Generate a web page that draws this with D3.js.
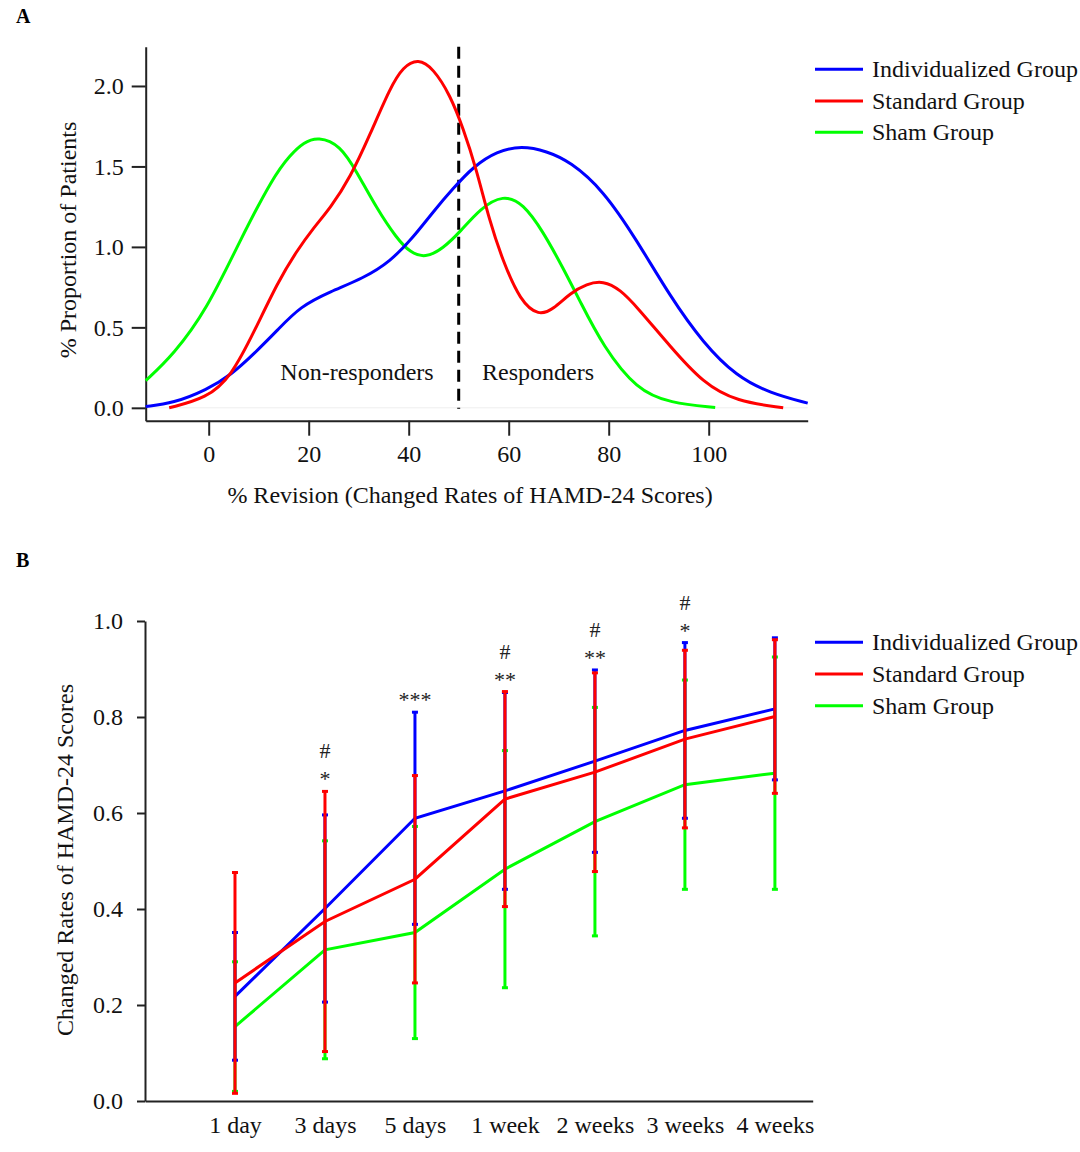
<!DOCTYPE html>
<html><head><meta charset="utf-8">
<script src="https://cdn.jsdelivr.net/npm/d3@7"></script>
<style>
html,body{margin:0;padding:0;background:#fff;}
svg{display:block;}
</style></head>
<body>
<script>
// ---------- Panel A data: density curves ----------
const groupNames = ["Individualized Group", "Standard Group", "Sham Group"];
const groupColors = ["#0000ff", "#ff0000", "#00ff00"];

const indivX = [-12.6, -7.1, -0.4, 4.5, 9.2, 13.8, 18.3, 24.3, 30.9, 36.3, 41.0, 44.9, 48.9, 52.9, 57.6, 62.6, 67.6, 72.3, 78.9, 85.6, 92.3, 98.9, 105.6, 112.3, 119.8];
const indivY = [0.008, 0.029, 0.112, 0.205, 0.34, 0.484, 0.63, 0.722, 0.805, 0.908, 1.063, 1.219, 1.364, 1.498, 1.595, 1.628, 1.595, 1.530, 1.353, 1.043, 0.691, 0.402, 0.194, 0.091, 0.029];

const standX = [-7.9, -0.4, 4.5, 9.2, 13.8, 17.5, 21.0, 24.3, 28.3, 32.3, 36.3, 38.9, 41.9, 44.9, 48.3, 50.9, 53.5, 56.2, 58.9, 62.3, 66.0, 69.0, 72.3, 75.6, 78.9, 82.3, 85.6, 92.3, 98.9, 105.6, 114.9];
const standY = [0.0, 0.06, 0.194, 0.48, 0.78, 0.97, 1.12, 1.24, 1.43, 1.70, 1.99, 2.12, 2.17, 2.11, 1.943, 1.736, 1.488, 1.157, 0.908, 0.665, 0.57, 0.615, 0.712, 0.77, 0.79, 0.735, 0.629, 0.381, 0.153, 0.039, 0.0];

const shamX = [-12.6, -7.1, -0.4, 6.3, 12.9, 16.3, 19.0, 21.9, 26.3, 29.6, 33.6, 37.6, 40.3, 43.3, 46.9, 50.3, 54.3, 58.9, 62.9, 66.9, 70.9, 74.3, 78.9, 85.6, 92.3, 101.3];
const shamY = [0.169, 0.329, 0.608, 1.043, 1.436, 1.571, 1.65, 1.685, 1.633, 1.467, 1.239, 1.053, 0.965, 0.93, 0.991, 1.094, 1.239, 1.325, 1.270, 1.094, 0.867, 0.66, 0.381, 0.112, 0.029, 0.002];

const xTicksA = [0, 20, 40, 60, 80, 100];
const yTicksA = [0, 0.5, 1.0, 1.5, 2.0];
const cutoff = 50;

// ---------- Panel B data: means and SD ----------
const timepoints = ["1 day", "3 days", "5 days", "1 week", "2 weeks", "3 weeks", "4 weeks"];
const indivMean = [0.218, 0.401, 0.589, 0.646, 0.708, 0.772, 0.817];
const indivSD   = [0.133, 0.195, 0.221, 0.205, 0.190, 0.183, 0.148];
const standMean = [0.246, 0.374, 0.462, 0.629, 0.685, 0.754, 0.801];
const standSD   = [0.230, 0.271, 0.216, 0.224, 0.207, 0.185, 0.160];
const shamMean  = [0.155, 0.315, 0.351, 0.483, 0.582, 0.659, 0.683];
const shamSD    = [0.135, 0.227, 0.221, 0.247, 0.238, 0.218, 0.242];
const yTicksB = [0, 0.2, 0.4, 0.6, 0.8, 1.0];
const starLabels = ["", "*", "***", "**", "**", "*", ""];
const hashLabels = ["", "#", "", "#", "#", "#", ""];

const FONT = "'Liberation Serif','Times New Roman',Times,serif";
const FS = 24;

const svg = d3.select("body").append("svg").attr("width", 1080).attr("height", 1152)
  .style("font-family", FONT);

// ================= PANEL A =================
const xA = d3.scaleLinear().domain([-12.6, 119.8]).range([145.7, 807.7]);
const yA = d3.scaleLinear().domain([-0.08, 2.244]).range([420.7, 46.7]);

svg.append("text").attr("x", 16).attr("y", 23).attr("font-size", 20).attr("font-weight", "bold").text("A");

// faint baseline
svg.append("line").attr("x1", xA.range()[0]).attr("x2", xA.range()[1])
  .attr("y1", yA(0)).attr("y2", yA(0)).attr("stroke", "#eeeeee").attr("stroke-width", 1);

const axYA = svg.append("g").attr("transform", `translate(${xA.range()[0]},0)`)
  .call(d3.axisLeft(yA).tickValues(yTicksA).tickFormat(d3.format(".1f")).tickSize(14).tickSizeOuter(0).tickPadding(8));
const axXA = svg.append("g").attr("transform", `translate(0,${yA.range()[0]})`)
  .call(d3.axisBottom(xA).tickValues(xTicksA).tickFormat(d3.format("d")).tickSize(15).tickSizeOuter(0));
axXA.selectAll(".tick text").attr("y", 41).attr("dy", 0);
[axYA, axXA].forEach(g => {
  g.attr("font-family", FONT).attr("font-size", FS);
  g.selectAll("path,line").attr("stroke", "#222").attr("stroke-width", 2);
  g.selectAll("text").attr("fill", "#111");
});

svg.append("text").attr("x", 470).attr("y", 503).attr("text-anchor", "middle").attr("font-size", FS)
  .attr("fill", "#111").text("% Revision (Changed Rates of HAMD-24 Scores)");
svg.append("text").attr("transform", "translate(76,240) rotate(-90)").attr("text-anchor", "middle")
  .attr("font-size", FS).attr("fill", "#111").text("% Proportion of Patients");

// dashed cutoff line
svg.append("line").attr("x1", xA(cutoff)).attr("x2", xA(cutoff)).attr("y1", yA.range()[1]).attr("y2", yA(0) + 1)
  .attr("stroke", "#000").attr("stroke-width", 3).attr("stroke-dasharray", "12,7");

svg.append("text").attr("x", 357).attr("y", 380).attr("text-anchor", "middle").attr("font-size", FS).attr("fill", "#111").text("Non-responders");
svg.append("text").attr("x", 538).attr("y", 380).attr("text-anchor", "middle").attr("font-size", FS).attr("fill", "#111").text("Responders");

const lineA = d3.line().x(d => xA(d[0])).y(d => yA(d[1])).curve(d3.curveBasis);
const curves = [[shamX, shamY, 2], [indivX, indivY, 0], [standX, standY, 1]];
curves.forEach(([xs, ys, gi]) => {
  const pts = xs.map((x, i) => [x, ys[i]]);
  svg.append("path").attr("d", lineA(pts)).attr("fill", "none")
    .attr("stroke", groupColors[gi]).attr("stroke-width", 3);
});

function legend(ys) {
  groupNames.forEach((n, i) => {
    svg.append("line").attr("x1", 815).attr("x2", 863).attr("y1", ys[i]).attr("y2", ys[i])
      .attr("stroke", groupColors[i]).attr("stroke-width", 3);
    svg.append("text").attr("x", 872).attr("y", ys[i] + 8).attr("font-size", FS).attr("fill", "#111").text(n);
  });
}
legend([69.3, 101, 132.3]);

// ================= PANEL B =================
const xB = d3.scaleLinear().domain([0, 7.42]).range([145, 812.7]);
const yB = d3.scaleLinear().domain([0, 1]).range([1101, 621]);

svg.append("text").attr("x", 16).attr("y", 567).attr("font-size", 20).attr("font-weight", "bold").text("B");

const axYB = svg.append("g").attr("transform", `translate(${xB.range()[0]},0)`)
  .call(d3.axisLeft(yB).tickValues(yTicksB).tickFormat(d3.format(".1f")).tickSize(8).tickSizeOuter(0).tickPadding(14));
const axXB = svg.append("g").attr("transform", `translate(0,${yB.range()[0]})`)
  .call(d3.axisBottom(xB).tickValues(d3.range(1, timepoints.length + 1)).tickFormat(i => timepoints[i - 1]).tickSize(0).tickSizeOuter(0));
axXB.selectAll(".tick text").attr("y", 32).attr("dy", 0);
[axYB, axXB].forEach(g => {
  g.attr("font-family", FONT).attr("font-size", FS);
  g.selectAll("path,line").attr("stroke", "#222").attr("stroke-width", 2);
  g.selectAll("text").attr("fill", "#111");
});
svg.append("text").attr("transform", "translate(73,860) rotate(-90)").attr("text-anchor", "middle")
  .attr("font-size", FS).attr("fill", "#111").text("Changed Rates of HAMD-24 Scores");

const seriesB = [[shamMean, shamSD, 2], [indivMean, indivSD, 0], [standMean, standSD, 1]];
const lineB = d3.line().x((d, i) => xB(i + 1)).y(d => yB(d));
seriesB.forEach(([m, sd, gi]) => {
  const g = svg.append("g");
  const col = groupColors[gi];
  m.forEach((v, i) => {
    const x = xB(i + 1), y1 = yB(v + sd[i]), y2 = yB(v - sd[i]);
    g.append("line").attr("x1", x).attr("x2", x).attr("y1", y1).attr("y2", y2).attr("stroke", col).attr("stroke-width", 3);
    [y1, y2].forEach(yy => g.append("line").attr("x1", x - 3).attr("x2", x + 3).attr("y1", yy).attr("y2", yy)
      .attr("stroke", col).attr("stroke-width", 3));
  });
  g.append("path").attr("d", lineB(m)).attr("fill", "none").attr("stroke", col).attr("stroke-width", 3);
});

// significance marks
timepoints.forEach((t, i) => {
  const top = Math.min(yB(indivMean[i] + indivSD[i]), yB(standMean[i] + standSD[i]), yB(shamMean[i] + shamSD[i]));
  const x = xB(i + 1);
  if (starLabels[i]) svg.append("text").attr("x", x).attr("y", top - 16 + 11).attr("text-anchor", "middle")
    .attr("font-size", 22).attr("fill", "#222").text(starLabels[i]);
  if (hashLabels[i]) svg.append("text").attr("x", x).attr("y", top - 41 + 8).attr("text-anchor", "middle")
    .attr("font-size", 22).attr("fill", "#222").text(hashLabels[i]);
});

legend([642.3, 674, 705.7]);
</script>
</body></html>
